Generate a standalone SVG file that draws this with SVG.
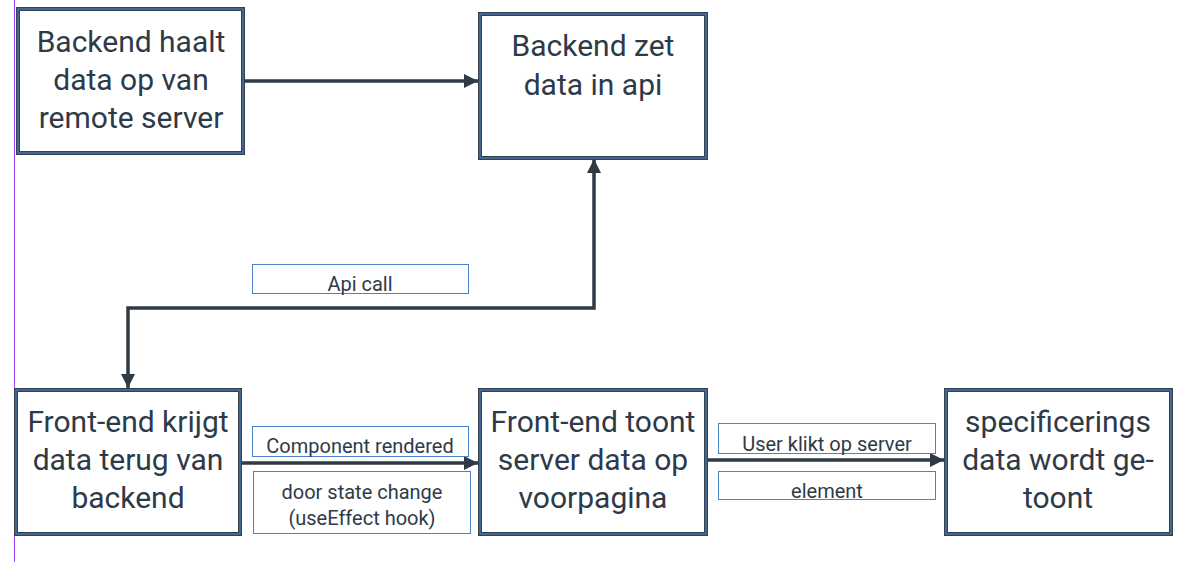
<svg xmlns="http://www.w3.org/2000/svg" width="1204" height="562" viewBox="0 0 1204 562">
<style>
.box{fill:#ffffff;stroke:#34414f;stroke-width:4}
.boxin{fill:none;stroke:#4f7fbf;stroke-width:1.2}
.lbl{fill:#ffffff;stroke:#4a84c8;stroke-width:1}
.t{font-family:"Roboto","Noto Sans",sans-serif;font-size:30px;fill:#2e3a48;text-anchor:middle}
.s{font-family:"Roboto","Noto Sans",sans-serif;font-size:20px;fill:#2e3a48;text-anchor:middle}
.c{fill:none;stroke:#2e3a46;stroke-width:3.5}
</style>
<defs>
<marker id="ah" viewBox="0 0 10 10" refX="10" refY="5" markerWidth="14" markerHeight="14" markerUnits="userSpaceOnUse" orient="auto-start-reverse">
<path d="M0,0 L10,5 L0,10 z" fill="#2e3a46"/>
</marker>
</defs>
<rect width="1204" height="562" fill="#ffffff"/>
<line x1="14.5" y1="0" x2="14.5" y2="562" stroke="#a040ff" stroke-width="1"/>
<g id="connectors">
<line class="c" x1="244" y1="81" x2="478" y2="81" marker-end="url(#ah)"/>
<path class="c" d="M594,159 L594,308 L128,308 L128,388" marker-start="url(#ah)" marker-end="url(#ah)"/>
<line class="c" x1="241" y1="463" x2="478" y2="463" marker-end="url(#ah)"/>
<line class="c" x1="707" y1="460" x2="944" y2="460" marker-end="url(#ah)"/>
</g>
<g id="n1">
<rect class="box" x="18" y="9" width="225" height="144"/>
<rect class="boxin" x="18" y="9" width="225" height="144"/>
<text class="t" x="131" y="52">Backend haalt</text>
<text class="t" x="131" y="90">data op van</text>
<text class="t" x="131" y="128">remote server</text>
</g>
<g id="n2">
<rect class="box" x="480" y="14" width="226" height="144"/>
<rect class="boxin" x="480" y="14" width="226" height="144"/>
<text class="t" x="593" y="56">Backend zet</text>
<text class="t" x="593" y="95">data in api</text>
</g>
<g id="n3">
<rect class="box" x="16" y="390" width="224" height="144"/>
<rect class="boxin" x="16" y="390" width="224" height="144"/>
<text class="t" x="128" y="432">Front-end krijgt</text>
<text class="t" x="128" y="470">data terug van</text>
<text class="t" x="128" y="508">backend</text>
</g>
<g id="n4">
<rect class="box" x="480" y="390" width="226" height="144"/>
<rect class="boxin" x="480" y="390" width="226" height="144"/>
<text class="t" x="593" y="432">Front-end toont</text>
<text class="t" x="593" y="470">server data op</text>
<text class="t" x="593" y="508">voorpagina</text>
</g>
<g id="n5">
<rect class="box" x="946" y="390" width="225" height="144"/>
<rect class="boxin" x="946" y="390" width="225" height="144"/>
<text class="t" x="1058" y="432">specificerings</text>
<text class="t" x="1058" y="470">data wordt ge-</text>
<text class="t" x="1058" y="508">toont</text>
</g>
<g id="l1">
<rect class="lbl" x="252.5" y="264.5" width="216" height="29"/>
<text class="s" x="360" y="291">Api call</text>
</g>
<g id="l2">
<rect class="lbl" x="252.5" y="426.5" width="216" height="30"/>
<text class="s" x="360" y="453">Component rendered</text>
</g>
<g id="l3">
<rect class="lbl" x="253.5" y="471.5" width="217" height="62"/>
<text class="s" x="362" y="499">door state change</text>
<text class="s" x="362" y="525">(useEffect hook)</text>
</g>
<g id="l4">
<rect class="lbl" x="718.5" y="423.5" width="217" height="30"/>
<text class="s" x="827" y="451">User klikt op server</text>
</g>
<g id="l5">
<rect class="lbl" x="718.5" y="471.5" width="217" height="28"/>
<text class="s" x="827" y="498">element</text>
</g>
</svg>
